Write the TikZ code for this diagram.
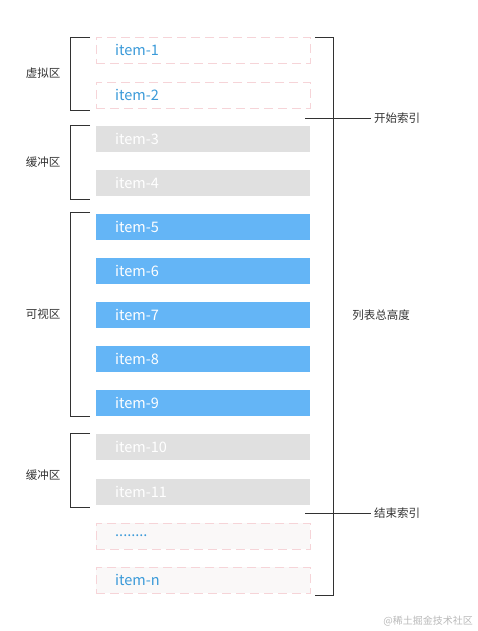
\documentclass[tikz,border=0pt]{standalone}
\usepackage{fontspec}
\setmainfont{Noto Sans CJK SC}
\newfontfamily\cjk{Noto Sans CJK SC}
\definecolor{bluefill}{RGB}{100,181,246}
\definecolor{grayfill}{RGB}{224,224,224}
\definecolor{dashpink}{RGB}{246,212,216}
\definecolor{lightfill}{RGB}{250,248,248}
\definecolor{itemtext}{RGB}{58,154,217}
\definecolor{linegray}{RGB}{50,50,50}
\definecolor{wm}{RGB}{185,185,185}
\tikzset{
  itembox/.style={minimum width=214pt, minimum height=26pt, inner sep=0pt, anchor=center},
  virt/.style={itembox, draw=dashpink, dash pattern=on 9pt off 5pt, fill=white, line width=0.9pt},
  virtb/.style={virt, fill=lightfill},
  buf/.style={itembox, fill=grayfill},
  vis/.style={itembox, fill=bluefill},
  itxt/.style={font=\fontsize{14.5}{16}\selectfont, anchor=west, inner sep=0pt},
  lbl/.style={font=\fontsize{11.5}{13}\selectfont, text=black!80, inner sep=0pt},
  brk/.style={draw=linegray, line width=0.9pt},
}
\begin{document}
\begin{tikzpicture}[x=1pt,y=-1pt]
\useasboundingbox (0,0) rectangle (477,631);
% items
\node[virt] (i1) at (203,50) {};
\node[virt] (i2) at (203,95) {};
\node[buf] (i3) at (203,139) {};
\node[buf] (i4) at (203,183) {};
\node[vis] (i5) at (203,227) {};
\node[vis] (i6) at (203,271) {};
\node[vis] (i7) at (203,315) {};
\node[vis] (i8) at (203,359) {};
\node[vis] (i9) at (203,403) {};
\node[buf] (i10) at (203,447) {};
\node[buf] (i11) at (203,492) {};
\node[virtb] (idots) at (203,536) {};
\node[virtb] (in) at (203,580) {};
\node[itxt, text=itemtext] (t1) at (115,50) {item-1};
\node[itxt, text=itemtext] (t2) at (115,95) {item-2};
\node[itxt, text=white] (t3) at (115,139) {item-3};
\node[itxt, text=white] (t4) at (115,183) {item-4};
\node[itxt, text=white] (t5) at (115,227) {item-5};
\node[itxt, text=white] (t6) at (115,271) {item-6};
\node[itxt, text=white] (t7) at (115,315) {item-7};
\node[itxt, text=white] (t8) at (115,359) {item-8};
\node[itxt, text=white] (t9) at (115,403) {item-9};
\node[itxt, text=white] (t10) at (115,447) {item-10};
\node[itxt, text=white] (t11) at (115,492) {item-11};
\node[itxt, text=itemtext] (tdots) at (115,536) {........};
\node[itxt, text=itemtext] (tn) at (115,580) {item-n};
% left brackets
\coordinate (a1) at (90,37); \coordinate (a2) at (70,37); \coordinate (a3) at (70,110); \coordinate (a4) at (90,110);
\draw[brk] (a1) -- (a2) -- (a3) -- (a4);
\node[lbl] (l1) at (43,73.5) {虚拟区};
\coordinate (b1) at (90,125); \coordinate (b2) at (70,125); \coordinate (b3) at (70,199); \coordinate (b4) at (90,199);
\draw[brk] (b1) -- (b2) -- (b3) -- (b4);
\node[lbl] (l2) at (43,162) {缓冲区};
\coordinate (c1) at (90,212); \coordinate (c2) at (70,212); \coordinate (c3) at (70,416); \coordinate (c4) at (90,416);
\draw[brk] (c1) -- (c2) -- (c3) -- (c4);
\node[lbl] (l3) at (43,314) {可视区};
\coordinate (d1) at (90,433); \coordinate (d2) at (70,433); \coordinate (d3) at (70,507); \coordinate (d4) at (90,507);
\draw[brk] (d1) -- (d2) -- (d3) -- (d4);
\node[lbl] (l4) at (43,475) {缓冲区};
% right bracket
\coordinate (r1) at (315,37); \coordinate (r2) at (333,37); \coordinate (r3) at (333,595); \coordinate (r4) at (315,595);
\draw[brk] (r1) -- (r2) -- (r3) -- (r4);
\node[lbl] (total) at (381,315) {列表总高度};
% index lines
\node[lbl, anchor=west] (start) at (374,118) {开始索引};
\coordinate (s0) at (305,118);
\draw[brk] (s0) -- ([xshift=-3pt]start.west);
\node[lbl, anchor=west] (end) at (374,513) {结束索引};
\coordinate (e0) at (305,513);
\draw[brk] (e0) -- ([xshift=-3pt]end.west);
% watermark
\node[font=\fontsize{10}{12}\selectfont, text=wm, anchor=east, inner sep=0pt] (wmk) at (473,621) {@稀土掘金技术社区};
\end{tikzpicture}
\end{document}
